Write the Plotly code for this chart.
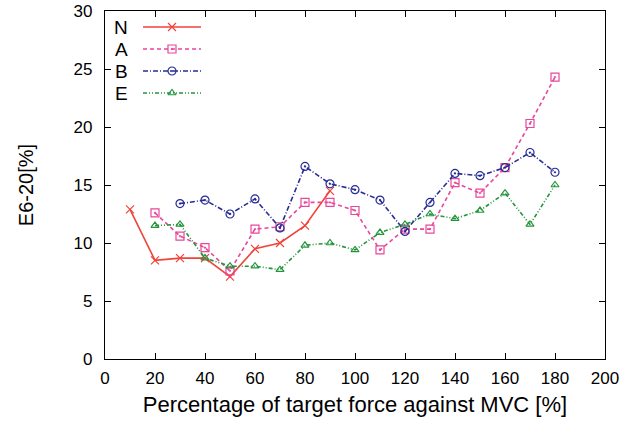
import plotly.graph_objects as go

x_N = [10, 20, 30, 40, 50, 60, 70, 80, 90]
y_N = [12.9, 8.5, 8.7, 8.7, 7.1, 9.5, 10.0, 11.5, 14.5]

x_A = [20, 30, 40, 50, 60, 70, 80, 90, 100, 110, 120, 130, 140, 150, 160, 170, 180]
y_A = [12.6, 10.6, 9.6, 7.6, 11.2, 11.4, 13.5, 13.5, 12.8, 9.4, 11.2, 11.2, 15.2, 14.3, 16.5, 20.3, 24.3]

x_B = [30, 40, 50, 60, 70, 80, 90, 100, 110, 120, 130, 140, 150, 160, 170, 180]
y_B = [13.4, 13.7, 12.5, 13.8, 11.3, 16.6, 15.1, 14.6, 13.7, 11.0, 13.5, 16.0, 15.8, 16.5, 17.8, 16.1]

x_E = [20, 30, 40, 50, 60, 70, 80, 90, 100, 110, 120, 130, 140, 150, 160, 170, 180]
y_E = [11.5, 11.6, 8.7, 8.0, 8.0, 7.7, 9.8, 10.0, 9.4, 10.9, 11.6, 12.5, 12.1, 12.8, 14.3, 11.6, 15.0]

series = [
    ("N", x_N, y_N, "#f0433a", "solid", "x-thin-open", 8),
    ("A", x_A, y_A, "#e8479a", "4px,3px", "square-open-dot", 8),
    ("B", x_B, y_B, "#272c96", "5px,2px,1px,2px", "circle-open-dot", 8),
    ("E", x_E, y_E, "#23953c", "4px,2px,1px,2px,1px,2px", "triangle-up-open", 7),
]

fig = go.Figure()
for name, xs, ys, col, dash, sym, ms in series:
    fig.add_trace(go.Scatter(
        x=xs, y=ys, mode="lines+markers", name=name,
        line=dict(color=col, width=1.6, dash=dash),
        marker=dict(symbol=sym, size=ms, color=col, line=dict(color=col, width=1.2)),
        showlegend=False,
    ))

# custom gnuplot-style legend (label text, then sample) on a helper pixel axis
leg_y = [16, 38, 60, 82]
for (name, xs, ys, col, dash, sym, ms), ly in zip(series, leg_y):
    fig.add_trace(go.Scatter(
        x=[38, 96], y=[ly, ly], mode="lines", xaxis="x2", yaxis="y2",
        line=dict(color=col, width=1.6, dash=dash), showlegend=False, hoverinfo="skip"))
    fig.add_trace(go.Scatter(
        x=[67], y=[ly], mode="markers", xaxis="x2", yaxis="y2",
        marker=dict(symbol=sym, size=ms, color=col, line=dict(color=col, width=1.2)),
        showlegend=False, hoverinfo="skip"))
    fig.add_annotation(x=24, y=ly, xref="x2", yref="y2", text=name, showarrow=False,
                       xanchor="right", yanchor="middle", borderpad=0,
                       font=dict(family="Liberation Sans", size=19, color="black"))

fig.update_layout(
    width=639, height=432,
    margin=dict(l=105, r=34, t=11, b=73, autoexpand=False),
    paper_bgcolor="white", plot_bgcolor="white",
    font=dict(family="Liberation Sans", size=17, color="black"),
    xaxis=dict(range=[0, 200], tick0=0, dtick=20, ticks="inside", ticklen=6,
               tickcolor="black", mirror="ticks", showline=True, linecolor="black",
               linewidth=1.2, showgrid=False, zeroline=False, automargin=False,
               ticklabelstandoff=3,
               title=dict(text="Percentage of target force against MVC [%]",
                          font=dict(size=22), standoff=10)),
    yaxis=dict(range=[0, 30], tick0=0, dtick=5, ticks="inside", ticklen=6,
               tickcolor="black", mirror="ticks", showline=True, linecolor="black",
               linewidth=1.2, showgrid=False, zeroline=False, automargin=False,
               ticklabelstandoff=8,
               title=dict(text="E6-20[%]", font=dict(size=20), standoff=34)),
    xaxis2=dict(overlaying="x", range=[0, 500], visible=False, fixedrange=True),
    yaxis2=dict(overlaying="y", range=[348, 0], visible=False, fixedrange=True),
)

fig.write_html("out.html")
